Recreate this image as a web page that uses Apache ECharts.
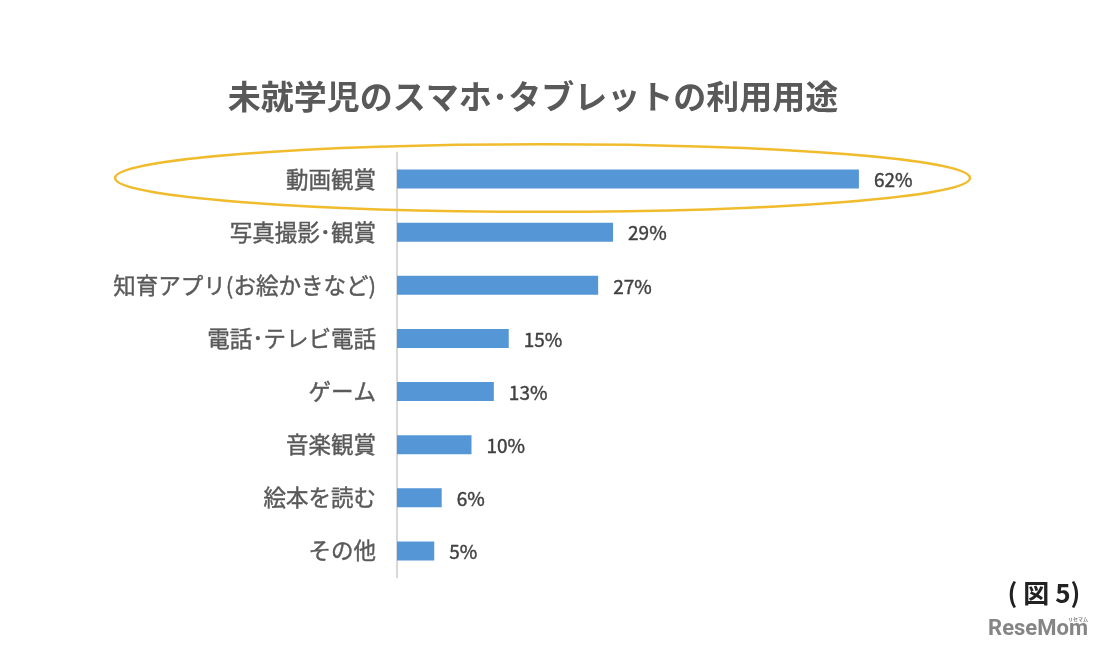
<!DOCTYPE html>
<html>
<head>
<meta charset="utf-8">
<title>未就学児のスマホ･タブレットの利用用途</title>
<script src="https://cdn.jsdelivr.net/npm/echarts@6/dist/echarts.min.js"></script>
<style>
  html, body { margin: 0; padding: 0; background: #fff; }
  #chart { width: 1097px; height: 650px; }
</style>
</head>
<body>
<div id="chart"></div>
<script>
const categories = ['動画観賞', '写真撮影･観賞', '知育アプリ(お絵かきなど)', '電話･テレビ電話', 'ゲーム', '音楽観賞', '絵本を読む', 'その他'];
const values = [62, 29, 27, 15, 13, 10, 6, 5];

const jpFont = '"Noto Sans CJK JP", sans-serif';
const chart = echarts.init(document.getElementById('chart'));

chart.setOption({
  animation: false,
  backgroundColor: '#fff',
  textStyle: { fontFamily: jpFont },
  title: [
    {
      text: '未就学児のスマホ･タブレットの利用用途',
      left: 528, top: 91, textAlign: 'center', textVerticalAlign: 'middle',
      textStyle: { fontSize: 33, fontWeight: 'bold', color: '#595959', fontFamily: jpFont }
    },
    {
      text: '( 図 5)',
      left: 1039, top: 588, textAlign: 'center', textVerticalAlign: 'middle',
      textStyle: { fontSize: 26, fontWeight: 'bold', color: '#222', fontFamily: jpFont }
    },
    {
      text: 'ReseMom',
      left: 1033, top: 624, textAlign: 'center', textVerticalAlign: 'middle',
      textStyle: { fontSize: 22, fontWeight: 'bold', color: '#858585', fontFamily: '"Liberation Sans Narrow", Roboto, sans-serif' }
    },
    {
      text: 'リセマム',
      left: 1073, top: 614, textAlign: 'center', textVerticalAlign: 'middle',
      textStyle: { fontSize: 5, color: '#858585', fontFamily: jpFont }
    }
  ],
  grid: { left: 397, top: 152.5, width: 596, height: 425, containLabel: false },
  xAxis: { type: 'value', min: 0, max: 80, show: false },
  yAxis: {
    type: 'category',
    data: categories,
    inverse: true,
    axisLine: { show: true, lineStyle: { color: '#d9d9d9', width: 2 } },
    axisTick: { show: false },
    axisLabel: {
      fontSize: 22.5, color: '#595959', margin: 21, fontFamily: jpFont,
      textBorderColor: '#595959', textBorderWidth: 0.4
    }
  },
  series: [{
    type: 'bar',
    data: values,
    barWidth: 19,
    itemStyle: { color: '#5596d6' },
    label: {
      show: true,
      position: 'right',
      distance: 15,
      offset: [0, 1],
      formatter: '{c}%',
      fontSize: 19,
      color: '#404040',
      fontFamily: jpFont,
      textBorderColor: '#404040',
      textBorderWidth: 0.4
    }
  }],
  // 動画観賞を囲む楕円
  graphic: [{
    type: 'ellipse',
    shape: { cx: 542.5, cy: 178, rx: 427.5, ry: 33.8 },
    style: { fill: 'none', stroke: '#f0bc2e', lineWidth: 2.5 },
    z: 10
  }]
});
</script>
</body>
</html>
